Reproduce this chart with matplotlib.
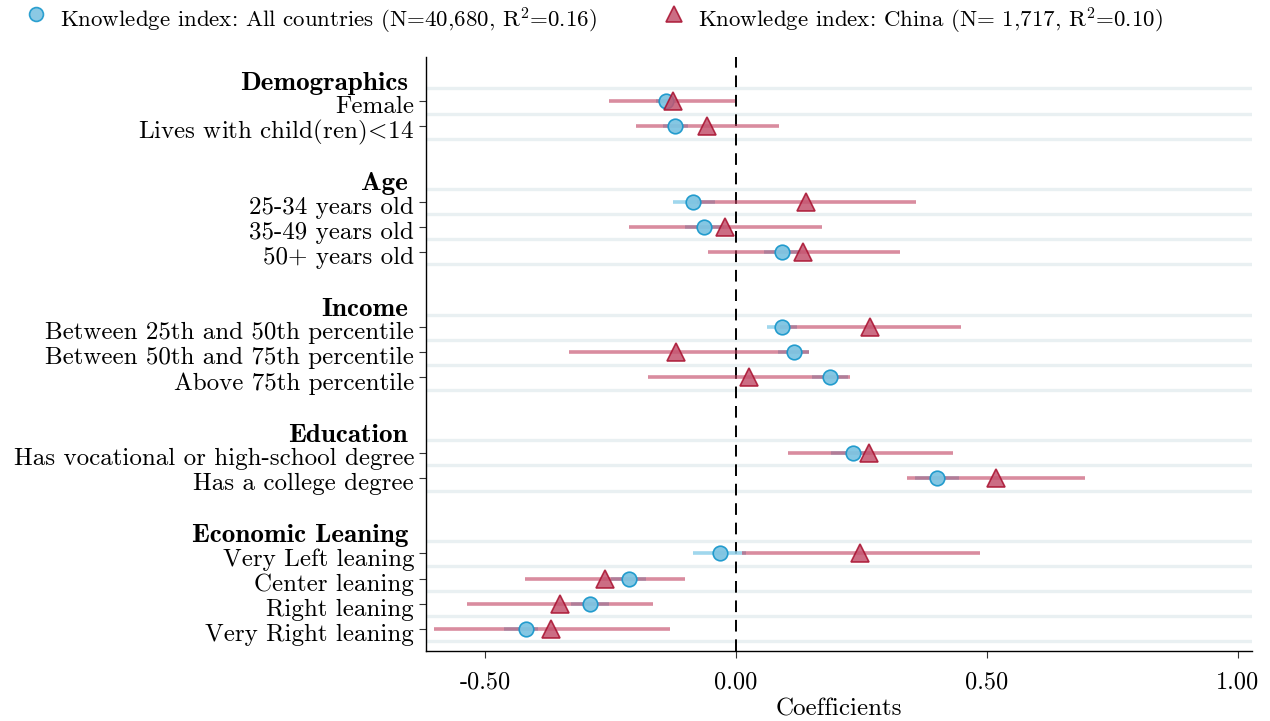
import matplotlib

matplotlib.use("Agg")
import matplotlib.pyplot as plt
from matplotlib.lines import Line2D

plt.rcParams["font.family"] = ["cmr10", "DejaVu Serif"]
plt.rcParams["mathtext.fontset"] = "cm"
plt.rcParams["axes.unicode_minus"] = False

groups = ["Demographics", "Age", "Income", "Education", "Economic Leaning"]
items = [
    ["Female", r"Lives with child(ren)$\!<\!$14"],
    ["25-34 years old", "35-49 years old", "50+ years old"],
    ["Between 25th and 50th percentile", "Between 50th and 75th percentile", "Above 75th percentile"],
    ["Has vocational or high-school degree", "Has a college degree"],
    ["Very Left leaning", "Center leaning", "Right leaning", "Very Right leaning"],
]

# all countries: coefficient and 95% interval
all_coef = [-0.140, -0.122, -0.085, -0.063, 0.092, 0.091, 0.115, 0.187, 0.233, 0.400, -0.031, -0.213, -0.290, -0.419]
all_lo = [-0.160, -0.146, -0.126, -0.102, 0.055, 0.061, 0.083, 0.152, 0.189, 0.357, -0.085, -0.248, -0.329, -0.463]
all_hi = [-0.120, -0.096, -0.042, -0.024, 0.130, 0.122, 0.146, 0.224, 0.268, 0.445, 0.020, -0.179, -0.252, -0.394]

# China
cn_coef = [-0.126, -0.057, 0.140, -0.022, 0.134, 0.267, -0.120, 0.027, 0.266, 0.518, 0.248, -0.260, -0.350, -0.368]
cn_lo = [-0.252, -0.199, -0.077, -0.214, -0.056, 0.087, -0.332, -0.175, 0.103, 0.341, 0.012, -0.420, -0.535, -0.602]
cn_hi = [-0.002, 0.085, 0.359, 0.171, 0.326, 0.449, 0.146, 0.228, 0.432, 0.695, 0.486, -0.102, -0.165, -0.131]

legend_labels = [
    r"Knowledge index: All countries (N=40,680, R$^2$=0.16)",
    r"Knowledge index: China (N= 1,717, R$^2$=0.10)",
]

blue_line = "#8fd0ea"
blue_face = "#7fc4e2"
blue_edge = "#1a98cc"
red_face = "#c4546f"
red_edge = "#a8102f"
grid_col = "#e9f0f2"

# row positions: one empty slot before each group for its header
positions = []
headers = []
row = 0
for g, names in zip(groups, items):
    headers.append(row)
    row += 1
    for _ in names:
        positions.append(row)
        row += 1
    row += 1
labels = [n for names in items for n in names]

fig = plt.figure(figsize=(12.7, 7.21), dpi=100)
ax = fig.add_axes([0.3354, 0.0971, 0.6504, 0.8239])

# light horizontal grid lines between rows
for g_idx, names in enumerate(items):
    first = headers[g_idx] + 1
    for k in range(len(names) + 1):
        ax.axhline(first + k - 0.5, color=grid_col, lw=2.4, zorder=0)

ax.axvline(0, color="black", lw=1.4, ls=(0, (6, 4)), zorder=1)

ax.hlines(positions, all_lo, all_hi, color=blue_line, lw=2.6, alpha=0.85, zorder=2)
ax.hlines(positions, cn_lo, cn_hi, color="#c0405f", lw=2.6, alpha=0.6, zorder=3)
ax.plot(all_coef, positions, "o", ms=10.5, mfc=blue_face, mec=blue_edge, mew=1.2, alpha=0.95, zorder=4, ls="none")
ax.plot(cn_coef, positions, "^", ms=12.5, mfc=red_face, mec=red_edge, mew=1.2, alpha=0.85, zorder=5, ls="none")

# ticks on the item rows; labels drawn a little below the tick, like the original
ax.set_yticks(positions)
ax.set_yticklabels([])
for lab, p in zip(labels, positions):
    ax.annotate(lab, xy=(0, p), xycoords=("axes fraction", "data"), xytext=(-8.6, -4.3),
                textcoords="offset points", ha="right", va="center", fontsize=18)
for g, h in zip(groups, headers):
    ax.annotate(g, xy=(0, h + 0.3), xycoords=("axes fraction", "data"), xytext=(-13, 0),
                textcoords="offset points", ha="right", va="center", fontsize=19.5,
                family=["cmb10", "DejaVu Serif"])

ax.set_ylim(positions[-1] + 0.88, positions[0] - 1.75)
ax.set_xlim(-0.6175, 1.028)
ax.set_xticks([-0.5, 0, 0.5, 1.0])
ax.set_xticklabels(["-0.50", "0.00", "0.50", "1.00"], fontsize=17.5)
ax.set_xlabel("Coefficients", fontsize=18, labelpad=3)
ax.tick_params(axis="both", length=5, width=0.8, color="#333333", pad=4)
ax.tick_params(axis="x", pad=10)
for side in ("top", "right"):
    ax.spines[side].set_visible(False)
for side in ("left", "bottom"):
    ax.spines[side].set_linewidth(1.0)

# legend drawn by hand along the top
fig.add_artist(Line2D([36 / 1270], [1 - 14 / 721], transform=fig.transFigure, marker="o", ls="none",
                      ms=10, mfc=blue_face, mec=blue_edge, mew=1.2, alpha=0.9))
fig.text(60 / 1270, 1 - 21 / 721, legend_labels[0], fontsize=16.5, va="center", ha="left")
fig.add_artist(Line2D([674 / 1270], [1 - 14 / 721], transform=fig.transFigure, marker="^", ls="none",
                      ms=11, mfc=red_face, mec=red_edge, mew=1.2, alpha=0.85))
fig.text(698 / 1270, 1 - 21 / 721, legend_labels[1], fontsize=16.5, va="center", ha="left")

fig.savefig("out.png", dpi=100)
